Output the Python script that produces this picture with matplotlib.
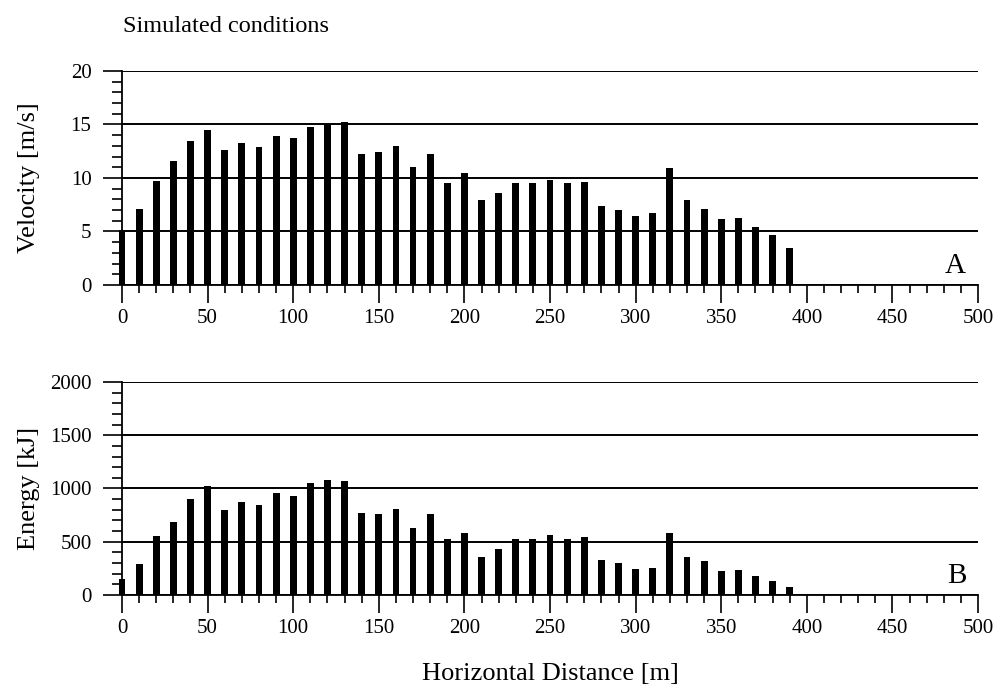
import matplotlib.pyplot as plt
from matplotlib.ticker import MultipleLocator

distance = list(range(0, 400, 10))
velocity = [5.1, 7.1, 9.7, 11.6, 13.5, 14.5, 12.6, 13.3, 12.9, 13.9,
            13.7, 14.8, 15.0, 15.2, 12.2, 12.4, 13.0, 11.0, 12.2, 9.5,
            10.5, 7.9, 8.6, 9.5, 9.5, 9.8, 9.5, 9.6, 7.4, 7.0,
            6.4, 6.7, 10.9, 7.9, 7.1, 6.2, 6.3, 5.4, 4.7, 3.5]
energy = [153, 291, 550, 681, 897, 1025, 797, 875, 841, 953,
          928, 1056, 1078, 1069, 769, 756, 803, 631, 762, 522,
          578, 359, 431, 522, 522, 566, 525, 541, 328, 297,
          244, 257, 582, 354, 320, 224, 236, 180, 127, 78]

plt.rcParams["font.family"] = ["Liberation Serif", "DejaVu Serif"]

fig = plt.figure(figsize=(9.96, 6.88), dpi=100)
ax1 = fig.add_axes([0.1225, 0.5858, 0.8595, 0.3110])
ax2 = fig.add_axes([0.1225, 0.1352, 0.8595, 0.3096])


def style(ax, ymax, ystep, yminor, ylabel, letter):
    ax.set_xlim(0, 500)
    ax.set_ylim(0, ymax)
    ax.xaxis.set_major_locator(MultipleLocator(50))
    ax.xaxis.set_minor_locator(MultipleLocator(10))
    ax.yaxis.set_major_locator(MultipleLocator(ystep))
    ax.yaxis.set_minor_locator(MultipleLocator(yminor))
    for s in ("top", "right"):
        ax.spines[s].set_visible(False)
    for s in ("left", "bottom"):
        ax.spines[s].set_linewidth(1.3)
    ax.grid(axis="y", color="black", linewidth=1.4)
    ax.set_axisbelow(True)
    ax.tick_params(axis="x", which="major", direction="out", length=13,
                   width=1.2, pad=4, labelsize=15)
    ax.tick_params(axis="x", which="minor", direction="out", length=6,
                   width=1.2)
    ax.tick_params(axis="y", which="major", direction="out", length=14,
                   width=1.2, pad=8, labelsize=15)
    ax.tick_params(axis="y", which="minor", direction="out", length=7,
                   width=1.2)
    ax.set_ylabel(ylabel, fontsize=19)
    # same x for both labels, like the original
    ax.yaxis.set_label_coords(-0.096, 0.5)
    ax.text(0.986, 0.03, letter, transform=ax.transAxes, fontsize=21,
            ha="right", va="bottom")


ax1.bar(distance, velocity, width=4, color="black", clip_on=False, zorder=3)
style(ax1, 20, 5, 1, "Velocity [m/s]", "A")
ax2.bar(distance, energy, width=4, color="black", clip_on=False, zorder=3)
style(ax2, 2000, 500, 100, "Energy [kJ]", "B")
ax2.set_xlabel("Horizontal Distance [m]", fontsize=19, labelpad=18)

fig.text(0.1235, 0.962, "Simulated conditions", fontsize=17.5,
         ha="left", va="center")

fig.savefig("out.png", dpi=100)
